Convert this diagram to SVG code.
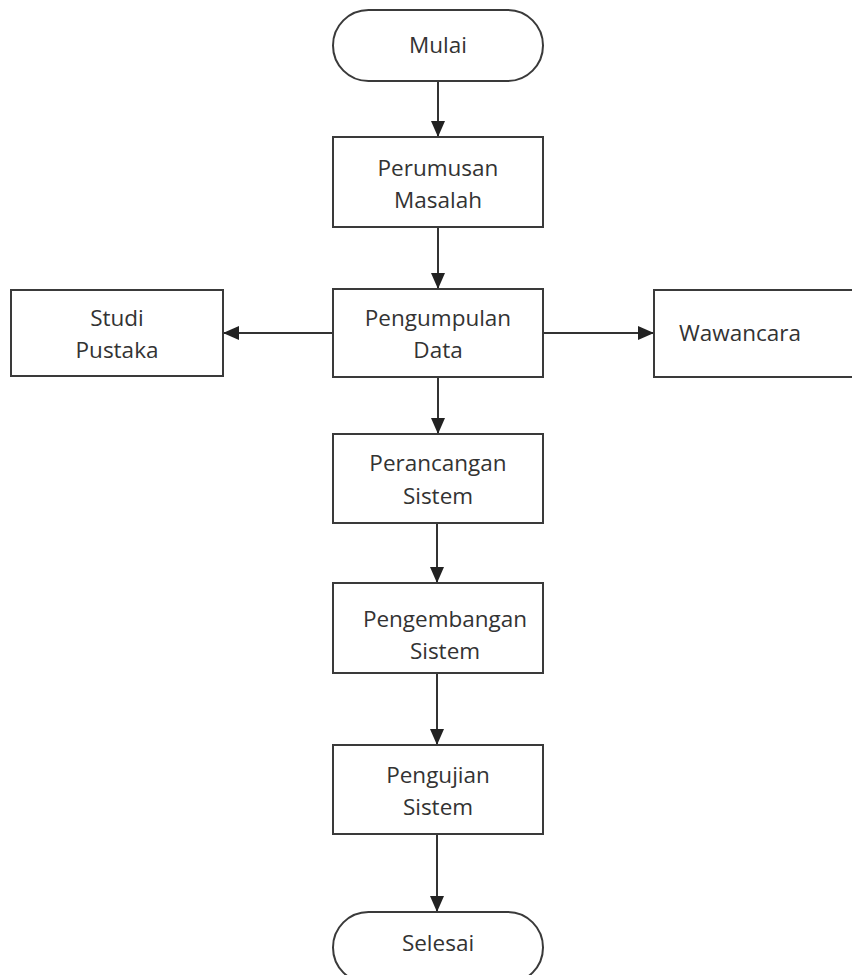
<svg xmlns="http://www.w3.org/2000/svg" width="852" height="975" viewBox="0 0 852 975">
<style>
.box{fill:#fff;stroke:#3a3a3a;stroke-width:2}
.t{font-family:"Open Sans","Noto Sans",sans-serif;font-size:22.5px;fill:#333;text-anchor:middle}
.c{stroke:#333;stroke-width:2;fill:none;marker-end:url(#ah)}
</style>
<defs>
<marker id="ah" viewBox="0 0 16 14" refX="16" refY="7" markerWidth="16" markerHeight="14" markerUnits="userSpaceOnUse" orient="auto">
<path d="M0,0 L16,7 L0,14 Z" fill="#222"/>
</marker>
</defs>
<rect width="852" height="975" fill="#fff"/>
<g id="connectors">
<line class="c" x1="438" y1="81" x2="438" y2="137"/>
<line class="c" x1="438" y1="227" x2="438" y2="289"/>
<line class="c" x1="333" y1="333" x2="223" y2="333"/>
<line class="c" x1="543" y1="333" x2="654" y2="333"/>
<line class="c" x1="438" y1="377" x2="438" y2="434"/>
<line class="c" x1="437" y1="523" x2="437" y2="583"/>
<line class="c" x1="437" y1="673" x2="437" y2="745"/>
<line class="c" x1="437" y1="834" x2="437" y2="912"/>
</g>
<g id="mulai"><rect class="box" x="333" y="10" width="210" height="71" rx="35.5"/><text class="t" x="438" y="53">Mulai</text></g>
<g id="perumusan"><rect class="box" x="333" y="137" width="210" height="90"/><text class="t" x="438" y="176">Perumusan</text><text class="t" x="438" y="208">Masalah</text></g>
<g id="pengumpulan"><rect class="box" x="333" y="289" width="210" height="88"/><text class="t" x="438" y="326">Pengumpulan</text><text class="t" x="438" y="358">Data</text></g>
<g id="studi"><rect class="box" x="11" y="290" width="212" height="86"/><text class="t" x="117" y="326">Studi</text><text class="t" x="117" y="358">Pustaka</text></g>
<g id="wawancara"><rect class="box" x="654" y="290" width="210" height="87"/><text class="t" x="740" y="341">Wawancara</text></g>
<g id="perancangan"><rect class="box" x="333" y="434" width="210" height="89"/><text class="t" x="438" y="471">Perancangan</text><text class="t" x="438" y="504">Sistem</text></g>
<g id="pengembangan"><rect class="box" x="333" y="583" width="210" height="90"/><text class="t" x="445" y="627">Pengembangan</text><text class="t" x="445" y="659">Sistem</text></g>
<g id="pengujian"><rect class="box" x="333" y="745" width="210" height="89"/><text class="t" x="438" y="783">Pengujian</text><text class="t" x="438" y="815">Sistem</text></g>
<g id="selesai"><rect class="box" x="333" y="912" width="210" height="71" rx="35.5"/><text class="t" x="438" y="951">Selesai</text></g>
</svg>
